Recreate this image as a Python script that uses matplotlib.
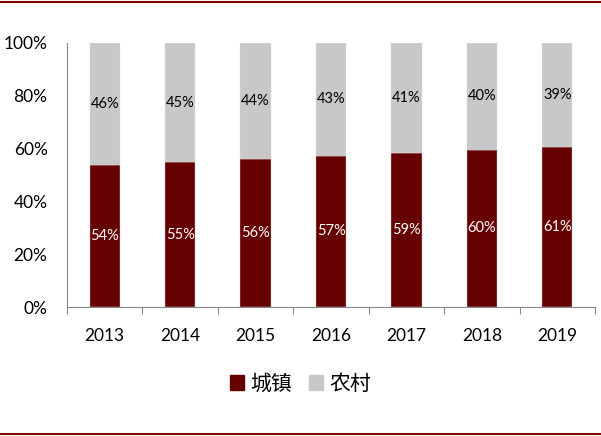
import numpy as np
import matplotlib.pyplot as plt
from matplotlib.lines import Line2D
from matplotlib.patches import Patch

plt.rcParams['font.family'] = ['Lato', 'Noto Sans CJK SC', 'DejaVu Sans']

years = ['2013', '2014', '2015', '2016', '2017', '2018', '2019']
urban = [53.73, 54.77, 56.10, 57.35, 58.52, 59.58, 60.60]
rural = [100 - u for u in urban]

c_urban = '#660000'
c_rural = '#c8c8c8'

fig = plt.figure(figsize=(6.01, 4.36), dpi=100)
ax = fig.add_axes([67/601, 129/436, 528/601, 264/436])

x = np.arange(len(years))
ax.bar(x, urban, width=0.4, color=c_urban, edgecolor='#d0c0c0', linewidth=0.3, label='城镇')
ax.bar(x, rural, width=0.4, bottom=urban, color=c_rural, edgecolor='#e0e0e0', linewidth=0.3, label='农村')

for i in range(len(years)):
    ax.text(x[i], urban[i] / 2, f"{round(urban[i])}%", ha='center', va='center',
            color='white', fontsize=10.5)
    ax.text(x[i], urban[i] + rural[i] / 2, f"{round(rural[i])}%", ha='center', va='center',
            color='black', fontsize=10.5)

ax.set_xlim(-0.5, len(years) - 0.5)
ax.set_ylim(0, 100)
ax.set_yticks([0, 20, 40, 60, 80, 100])
ax.set_yticklabels([f"{v}%" for v in [0, 20, 40, 60, 80, 100]], fontsize=12.5)
ax.tick_params(axis='y', length=0, pad=14)

ax.set_xticks(x)
ax.set_xticklabels(years, fontsize=12.5)
ax.set_xticks(np.arange(-0.5, len(years)), minor=True)
ax.tick_params(axis='x', which='major', length=0, pad=15)
ax.tick_params(axis='x', which='minor', length=5, color='#888888', width=0.8)

for s in ['top', 'right']:
    ax.spines[s].set_visible(False)
ax.spines['left'].set_color('#888888')
ax.spines['bottom'].set_color('#888888')

handles = [Patch(color=c_urban), Patch(color=c_rural)]
fig.legend(handles, ['城镇', '农村'], loc='center', bbox_to_anchor=(0.5, 1 - 384/436),
           ncol=2, frameon=False, fontsize=15, handlelength=0.7, handleheight=0.7,
           handletextpad=0.3, columnspacing=0.8)

fig.add_artist(Line2D([0, 1], [1 - 2/436, 1 - 2/436], color='#7f0000', linewidth=1.5))
fig.add_artist(Line2D([0, 1], [1 - 434/436, 1 - 434/436], color='#7f0000', linewidth=1.5))

fig.savefig('out.png', dpi=100)
